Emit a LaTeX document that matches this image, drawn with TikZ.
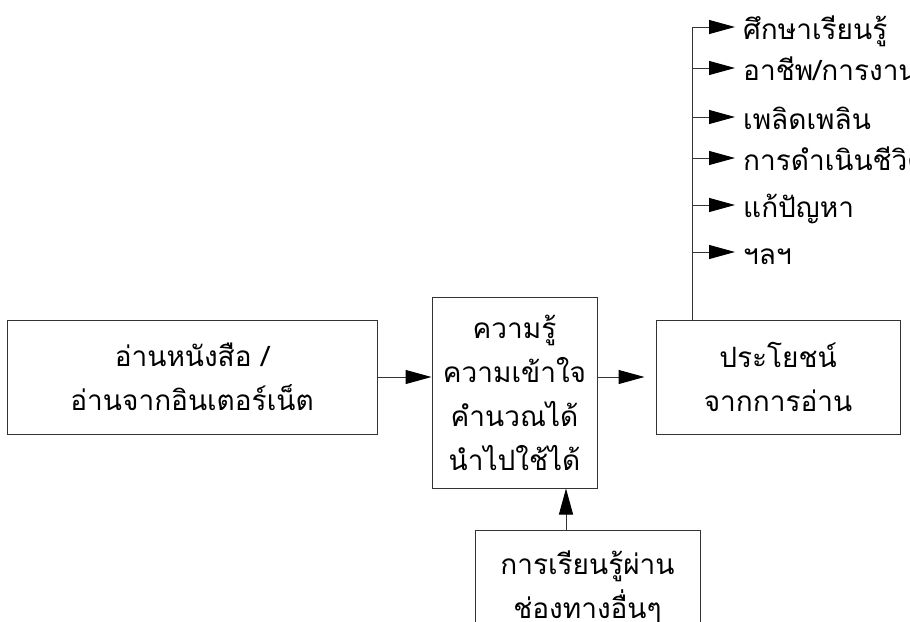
\documentclass[tikz,border=0pt]{standalone}
\usepackage{fontspec}
\newfontfamily\thaifont[Script=Thai]{Loma}
\usetikzlibrary{arrows.meta}
\tikzset{
  box/.style={draw=black!80, line width=1pt, align=center, inner sep=0pt,
    font=\thaifont\fontsize{28}{44}\selectfont},
  arr/.style={draw=black!80, line width=1pt, -{Triangle[length=26pt,width=14pt,fill=black,color=black]}},
  item/.style={anchor=base west, inner sep=0pt, font=\thaifont\fontsize{28}{30}\selectfont}
}
\begin{document}
\begin{tikzpicture}[x=1pt,y=-1pt]
			\useasboundingbox (0,0) rectangle (910,621);
			\clip (0,0) rectangle (910,621);
			% boxes
			\node[box, minimum width=370pt, minimum height=114pt] (read) at (192,377) {อ่านหนังสือ /\\อ่านจากอินเตอร์เน็ต};
			\node[box, minimum width=165pt, minimum height=191pt] (know) at (514.5,392.5) {ความรู้\\ความเข้าใจ\\คำนวณได้\\นำไปใช้ได้};
			\node[box, minimum width=244pt, minimum height=114pt] (gain) at (778,377) {ประโยชน์\\จากการอ่าน};
			\node[box, minimum width=225pt, minimum height=114pt] (other) at (587.5,587) {การเรียนรู้ผ่าน\\ช่องทางอื่นๆ};
			% arrows between boxes
			\coordinate (up) at (566,0);
			\draw[arr] (read.east) -- (know.west |- read.east);
			\draw[arr, shorten >=11pt] (know.east |- gain.west) -- (gain.west);
			\draw[arr] (other.north -| up) -- (know.south -| up);
			% branches
			\coordinate (trunk) at (692,27);
			\draw[draw=black!80, line width=1pt] (trunk) -- (trunk |- gain.north);
			\foreach \y/\t [count=\i] in {27/{ศึกษาเรียนรู้},68/{อาชีพ/การงาน},117/{เพลิดเพลิน},158/{การดำเนินชีวิต},205/{แก้ปัญหา},252/{ฯลฯ}}{
				\coordinate (b\i) at (692,\y);
				\node[item] (use\i) at (743,{\y+12}) {\t};
				\draw[arr, shorten >=8pt] (b\i) -- ([yshift=12pt]use\i.base west) ;
			}
		\end{tikzpicture}
\end{document}
